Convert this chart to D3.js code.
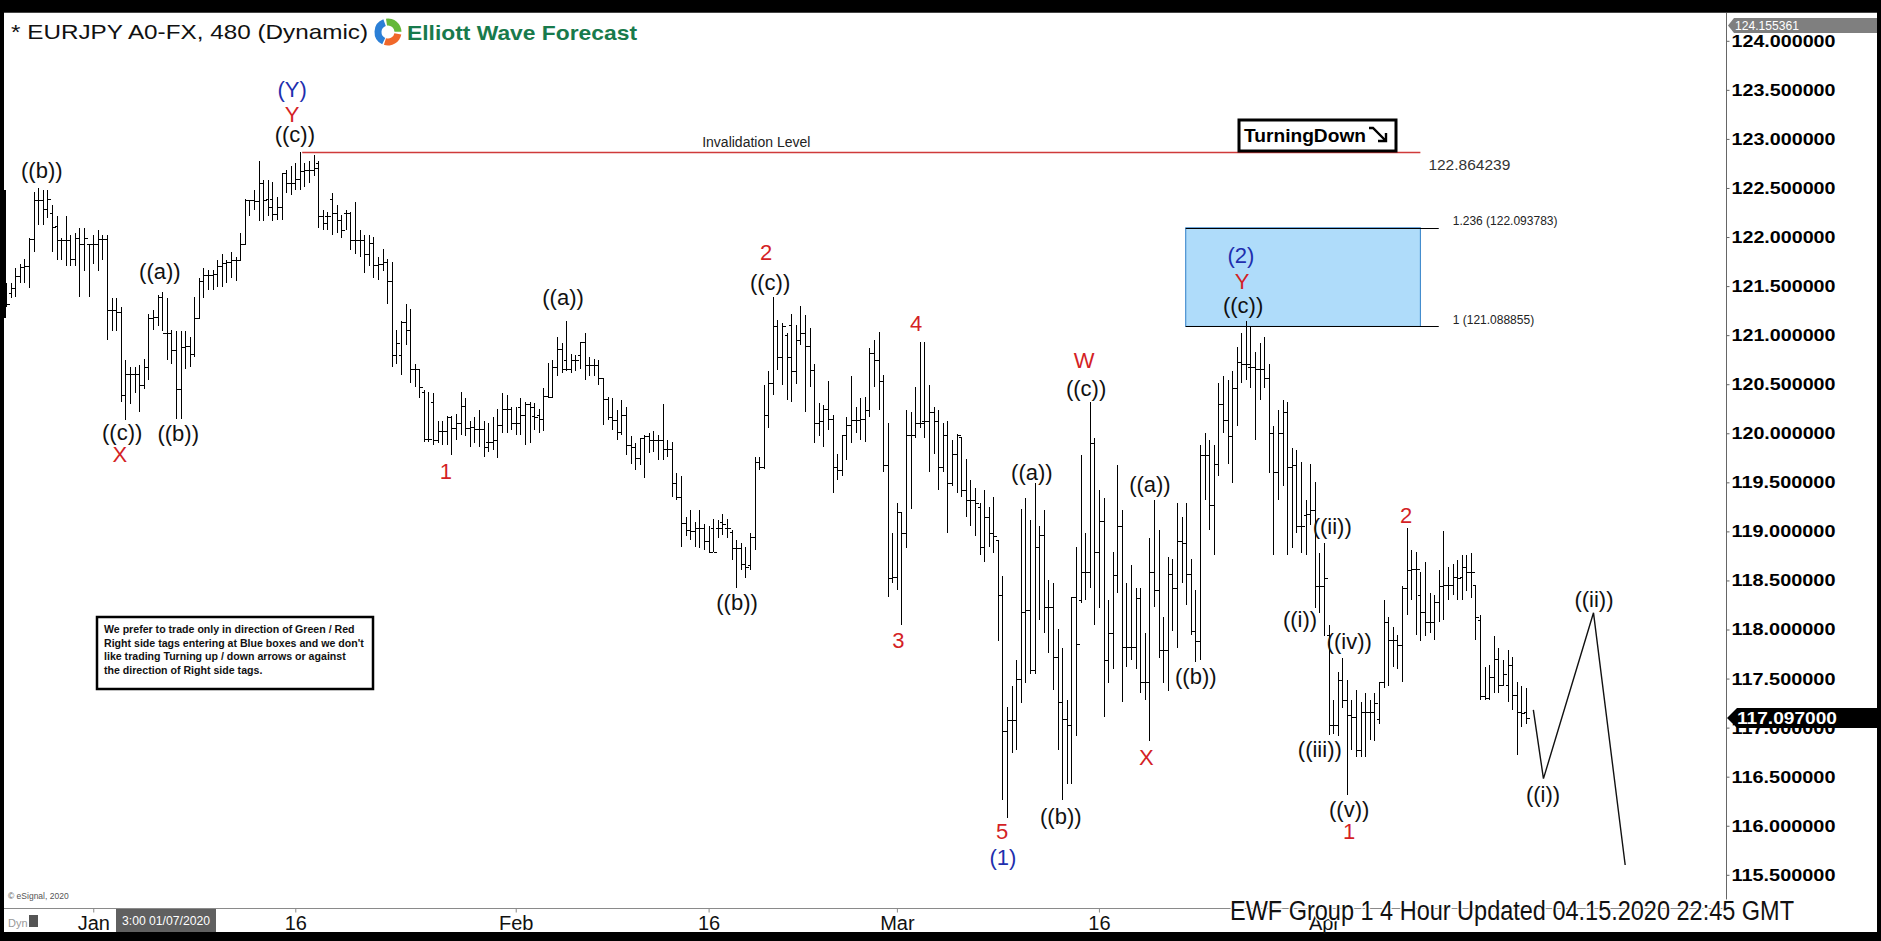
<!DOCTYPE html>
<html><head><meta charset="utf-8">
<script src="https://cdn.jsdelivr.net/npm/d3@7"></script>
<style>
html,body{margin:0;padding:0;background:#000;overflow:hidden;}
svg{display:block;}
text{font-family:"Liberation Sans",Arial,Helvetica,sans-serif;}
</style></head><body>
<svg id="c" width="1881" height="941"></svg>
<script>
// ---------------- DATA (EURJPY 480-min bars) ----------------
const highs=[
121.53,121.53,121.68,121.73,121.78,121.99,122.46,122.50,122.48,122.48,
122.33,122.21,121.99,122.21,122.02,122.04,122.09,122.09,121.93,122.02,
122.07,122.02,122.02,121.38,121.38,121.29,120.75,120.68,120.68,120.70,
120.76,121.22,121.26,121.41,121.44,121.38,121.05,121.04,121.04,121.04,
120.98,121.39,121.58,121.68,121.66,121.66,121.77,121.83,121.77,121.85,
121.80,122.04,122.39,122.38,122.48,122.77,122.58,122.58,122.56,122.41,
122.65,122.68,122.72,122.75,122.87,122.75,122.77,122.84,122.77,122.28,
122.26,122.45,122.33,122.22,122.28,122.26,122.36,122.07,122.02,122.02,
122.00,121.80,121.88,121.78,121.75,121.05,121.14,121.32,121.27,120.71,
120.66,120.44,120.42,120.41,120.13,120.13,120.18,120.18,120.20,120.42,
120.36,120.13,120.17,120.24,120.12,120.10,120.17,120.25,120.41,120.39,
120.27,120.27,120.36,120.32,120.32,120.31,120.25,120.46,120.72,120.75,
120.98,120.92,121.14,120.81,120.80,120.93,121.02,120.78,120.76,120.75,
120.56,120.37,120.36,120.24,120.34,120.27,119.97,119.90,119.95,119.98,
120.00,120.02,119.98,120.30,119.93,119.91,119.59,119.56,119.15,119.22,
119.10,119.22,119.08,119.05,119.13,119.12,119.18,119.13,119.01,118.91,
118.88,118.84,118.98,119.76,119.76,120.49,120.63,121.39,121.15,121.12,
121.02,121.22,121.10,121.30,121.21,121.07,120.71,120.31,120.29,120.53,
120.19,119.79,119.98,120.17,120.58,120.27,120.36,120.37,120.87,120.95,
121.03,120.59,120.10,118.98,119.29,119.20,120.24,120.22,120.47,120.93,
120.93,120.49,120.27,120.24,120.10,120.12,119.93,119.99,119.96,119.74,
119.52,119.44,119.29,119.42,119.25,119.35,118.91,118.55,117.21,117.42,
117.69,119.23,119.34,119.12,119.49,119.05,119.22,118.50,118.47,118.01,
117.81,117.28,118.33,118.84,119.78,118.98,120.32,119.95,119.42,119.34,
118.30,118.79,119.68,119.22,118.47,118.66,118.42,118.42,117.96,118.93,
119.32,119.01,118.13,118.74,118.72,119.29,119.15,119.29,118.72,118.40,
119.88,120.00,119.93,119.88,120.51,120.58,120.54,120.63,120.88,121.02,
121.14,121.09,120.83,120.92,120.98,120.71,120.07,120.24,120.34,120.32,
119.85,119.83,119.71,119.32,119.69,119.50,118.78,118.88,118.05,117.28,
117.57,117.71,117.49,117.28,117.38,117.26,117.35,117.28,117.35,117.47,
118.30,118.13,118.03,117.94,118.44,119.03,118.81,118.79,118.59,118.69,
118.37,118.35,118.61,119.00,118.64,118.67,118.71,118.76,118.76,118.78,
118.45,118.15,117.62,117.64,117.93,117.81,117.69,117.79,117.72,117.47,117.42,117.40];
const lows=[
121.29,121.38,121.39,121.53,121.53,121.48,121.85,122.12,122.12,122.19,
121.85,121.77,121.77,121.70,121.70,121.70,121.39,121.65,121.39,121.73,
121.65,121.77,120.95,121.04,121.04,120.32,120.14,120.30,120.41,120.22,
120.45,120.54,121.05,121.09,121.04,120.75,120.71,120.15,120.15,120.65,
120.68,120.78,121.17,121.38,121.46,121.46,121.49,121.49,121.53,121.58,
121.55,121.77,121.92,122.21,122.28,122.16,122.16,122.21,122.16,122.17,
122.17,122.45,122.43,122.48,122.48,122.51,122.55,122.62,122.09,122.07,
122.07,122.02,122.04,121.99,122.07,121.87,121.83,121.80,121.63,121.70,
121.58,121.56,121.65,121.32,120.68,120.71,120.59,120.90,120.51,120.47,
120.36,119.91,119.91,119.88,119.90,119.88,119.88,119.78,119.93,119.98,
119.97,119.86,119.90,119.86,119.76,119.81,119.83,119.75,120.00,120.00,
120.03,119.98,119.98,119.88,119.90,120.03,120.00,120.02,120.36,120.36,
120.58,120.61,120.63,120.61,120.63,120.65,120.54,120.58,120.58,120.49,
120.08,120.14,120.03,119.93,119.98,119.78,119.69,119.63,119.68,119.54,
119.80,119.81,119.73,119.73,119.76,119.35,119.32,118.84,118.95,118.91,
118.84,118.83,118.81,118.78,118.79,118.93,118.96,118.93,118.71,118.42,
118.61,118.52,118.61,118.81,119.63,119.64,120.05,120.39,120.64,120.49,
120.34,120.32,120.50,120.90,120.22,120.47,119.90,119.97,119.86,120.03,
119.39,119.52,119.56,119.73,119.90,120.00,119.93,119.91,120.17,120.47,
120.24,119.61,118.33,118.47,118.40,118.05,118.83,119.23,119.95,120.05,
119.95,119.61,119.79,119.42,119.61,118.98,119.46,119.39,119.35,119.15,
119.05,118.95,118.76,118.69,118.84,118.78,117.88,116.26,116.08,116.74,
116.77,117.25,117.45,117.55,117.55,118.10,117.96,117.76,117.38,116.77,
116.26,116.43,116.43,116.91,118.27,118.30,118.42,118.05,118.22,117.11,
117.45,117.60,118.37,117.26,117.62,117.69,117.60,117.35,117.28,116.86,
118.23,117.71,117.45,117.37,117.98,117.81,118.47,118.25,117.94,117.67,
117.69,119.32,119.01,118.76,119.56,120.00,119.69,119.49,120.07,120.51,
120.54,120.46,119.93,120.34,120.46,119.59,118.76,119.32,119.46,118.76,
118.83,118.98,118.78,118.76,119.07,118.22,118.17,117.93,116.92,116.94,
116.91,117.20,116.31,116.77,116.70,116.70,116.70,116.87,116.86,117.04,
117.40,117.42,117.62,117.60,117.47,118.15,118.30,117.94,117.88,117.93,
117.96,117.89,118.08,118.10,118.30,118.35,118.30,118.30,118.39,118.32,
117.89,117.28,117.28,117.28,117.35,117.35,117.42,117.26,117.18,116.72,117.01,117.04];
const opens=[
121.39,121.43,121.48,121.60,121.69,121.70,121.98,122.38,122.38,122.29,
122.24,122.11,121.97,121.97,121.97,121.78,121.99,121.93,121.93,121.93,
121.93,121.98,121.98,121.26,121.26,121.24,120.39,120.60,120.60,120.60,
120.49,120.68,121.17,121.19,121.39,121.02,121.02,120.85,120.45,120.88,
120.89,120.81,121.17,121.55,121.61,121.61,121.62,121.70,121.74,121.75,
121.77,121.77,121.93,122.38,122.38,122.37,122.55,122.39,122.39,122.23,
122.31,122.65,122.55,122.55,122.59,122.67,122.68,122.68,122.75,122.21,
122.21,122.39,122.24,122.17,122.25,122.25,121.97,121.97,121.97,121.83,
121.94,121.72,121.73,121.75,121.55,120.80,120.80,121.13,121.05,120.65,
120.65,120.42,119.94,120.32,119.93,120.02,120.02,120.17,120.05,120.10,
120.28,120.05,120.06,120.04,120.04,119.91,119.91,119.93,120.08,120.25,
120.25,120.10,120.27,120.19,120.30,120.18,120.19,120.15,120.38,120.37,
120.68,120.86,120.75,120.66,120.75,120.80,120.93,120.70,120.70,120.70,
120.56,120.35,120.17,120.14,120.01,120.19,119.88,119.86,119.75,119.95,
119.97,119.93,119.93,119.93,119.84,119.84,119.49,119.35,119.09,119.01,
119.00,119.03,119.03,118.90,119.03,119.03,119.10,119.03,118.99,118.83,
118.83,118.67,118.66,118.94,119.71,119.66,120.19,120.51,121.09,120.78,
121.00,121.10,120.63,120.95,121.02,120.89,120.64,120.10,120.13,120.25,
120.15,119.66,119.63,119.98,120.08,120.14,120.14,120.15,120.24,120.82,
120.75,120.53,119.68,118.52,118.54,119.20,118.98,119.98,119.98,120.10,
120.13,120.13,120.22,120.13,119.66,119.98,119.49,119.79,119.96,119.42,
119.32,119.32,119.25,118.84,119.15,118.98,118.91,118.35,116.97,117.08,
117.08,117.50,118.18,118.20,117.59,118.84,118.96,118.23,118.23,117.72,
117.26,117.09,117.03,118.33,118.30,118.59,118.59,119.90,118.79,119.11,
117.69,117.96,118.56,119.05,117.82,117.82,117.82,118.32,117.47,117.47,
118.59,118.40,117.79,117.79,118.57,118.42,118.90,118.88,118.57,117.98,
117.88,119.78,119.78,119.27,119.69,120.30,120.14,119.97,120.46,120.73,
120.71,120.68,120.68,120.66,120.66,120.56,120.00,119.61,120.00,120.22,
119.66,119.68,119.05,119.17,119.18,119.22,118.44,118.44,117.94,117.03,
117.03,117.49,117.28,117.13,117.11,116.77,117.16,117.16,117.16,117.09,
117.46,118.08,117.89,117.89,117.84,118.42,118.61,118.62,118.35,118.18,
118.08,118.08,118.28,118.44,118.45,118.45,118.54,118.54,118.64,118.59,
118.45,118.10,117.32,117.30,117.52,117.70,117.43,117.43,117.64,117.33,117.16,117.16];
const closes=[
121.32,121.48,121.60,121.69,121.70,121.98,122.38,122.38,122.29,122.39,
122.10,121.97,121.97,121.97,121.78,121.99,121.93,121.99,121.93,121.93,
121.98,121.98,121.26,121.26,121.24,120.39,120.60,120.60,120.60,120.49,
120.68,121.17,121.19,121.39,121.02,121.02,120.85,120.45,120.88,120.89,
120.81,121.17,121.55,121.61,121.61,121.62,121.70,121.74,121.75,121.77,
121.77,121.93,122.38,122.38,122.37,122.55,122.38,122.31,122.23,122.31,
122.65,122.55,122.55,122.59,122.67,122.68,122.68,122.70,122.21,122.14,
122.21,122.24,122.17,122.07,122.25,121.97,121.97,121.97,121.83,121.94,
121.72,121.73,121.75,121.55,120.80,120.92,121.13,121.05,120.65,120.65,
120.47,119.94,119.94,119.93,120.02,120.02,120.17,120.05,120.10,120.28,
120.05,120.06,120.04,120.04,119.86,119.91,119.93,120.08,120.25,120.25,
120.10,120.10,120.19,120.30,120.27,120.17,120.15,120.38,120.37,120.68,
120.86,120.66,120.66,120.75,120.75,120.93,120.70,120.70,120.70,120.56,
120.35,120.17,120.14,120.01,120.19,119.88,119.86,119.75,119.95,119.97,
119.93,119.93,119.93,119.84,119.84,119.49,119.35,119.09,119.01,119.00,
119.03,119.03,118.90,118.79,118.79,119.03,119.08,119.03,118.83,118.83,
118.67,118.64,118.94,119.71,119.66,120.19,120.51,121.09,120.78,121.09,
120.78,120.63,120.95,121.02,120.89,120.64,120.10,120.13,120.25,120.15,
119.66,119.63,119.98,120.08,120.14,120.14,120.15,120.24,120.82,120.75,
120.53,119.68,118.52,118.54,119.20,118.98,119.98,119.98,120.10,120.10,
120.13,120.22,120.13,119.66,119.98,119.49,119.79,119.98,119.42,119.32,
119.32,119.29,118.84,119.15,118.98,118.95,118.35,116.97,117.08,117.08,
117.50,118.18,118.20,117.59,118.84,118.96,118.23,118.23,117.72,117.26,
117.09,117.03,118.33,117.85,118.59,118.59,119.90,118.79,119.11,117.69,
117.96,118.56,119.05,117.82,117.82,117.82,118.32,117.47,117.47,118.59,
118.40,117.79,117.79,118.57,118.42,118.90,118.88,118.57,117.98,117.88,
119.78,119.78,119.27,119.69,120.30,120.14,119.97,120.46,120.73,120.71,
120.71,120.68,120.66,120.66,120.56,120.00,119.61,120.00,120.22,119.66,
119.68,119.05,119.05,119.18,119.22,118.44,118.44,118.52,117.03,117.03,
117.49,117.28,117.13,117.11,116.77,117.16,117.16,117.16,117.25,117.46,
118.08,117.89,117.89,117.84,118.42,118.61,118.62,118.62,118.18,118.08,
118.08,118.28,118.44,118.45,118.45,118.54,118.52,118.64,118.59,118.59,
118.13,117.32,117.30,117.52,117.70,117.43,117.55,117.64,117.33,117.16,117.15,117.10];

const xTickIdx=[19,63,111,153,194,238,287];
const xTickLabels=["Jan","16","Feb","16","Mar","16","Apr"];
const yTicks=[124,123.5,123,122.5,122,121.5,121,120.5,120,119.5,119,118.5,118,117.5,117,116.5,116,115.5];

// projected path (bar index, price)
const projIdx=[332.6,334.8,345.7,352.6];
const projPrice=[117.18,116.48,118.17,115.60];

// invalidation & fib box
const invalidation={price:122.864239, from:64.5, to:308};
const fibTop=122.093783, fibBottom=121.088855, fibFrom=256.9, fibTo=308, fibLineTo=312;
const lastPrice=117.097, topPrice=124.155361;

// wave labels: text, bar index, price, colour key
const waveLabels=[
 ["((b))",7.8,122.68,"k"],["((c))",25.3,120.01,"k"],["X",24.8,119.78,"r"],
 ["((a))",33.5,121.65,"k"],["((b))",37.5,120.00,"k"],
 ["(Y)",62.3,123.50,"b"],["Y",62.3,123.25,"r"],["((c))",62.9,123.05,"k"],
 ["1",95.8,119.61,"r"],["((a))",121.3,121.38,"k"],["((b))",159.2,118.28,"k"],
 ["2",165.5,121.84,"r"],["((c))",166.4,121.54,"k"],
 ["4",198.2,121.12,"r"],["3",194.3,117.89,"r"],
 ["W",234.8,120.74,"r"],["((c))",235.2,120.46,"k"],["((a))",223.4,119.60,"k"],
 ["5",216.9,115.94,"r"],["(1)",217.1,115.68,"b"],["((b))",229.7,116.09,"k"],
 ["((a))",249.1,119.48,"k"],["X",248.3,116.70,"r"],["((b))",259.1,117.52,"k"],
 ["(2)",268.9,121.81,"b"],["Y",269.2,121.55,"r"],["((c))",269.4,121.30,"k"],
 ["((ii))",288.8,119.05,"k"],["((i))",281.8,118.10,"k"],["((iv))",292.5,117.88,"k"],
 ["((iii))",286.1,116.78,"k"],["((v))",292.5,116.17,"k"],["1",292.5,115.94,"r"],
 ["2",304.9,119.16,"r"],["((ii))",345.8,118.31,"k"],["((i))",334.7,116.32,"k"]
];
const colorMap={k:"#111111",r:"#d41f26",b:"#1f2fae"};

// ---------------- DRAW ----------------
const svg=d3.select("#c");
svg.append("rect").attr("width",1881).attr("height",941).attr("fill","#000");
svg.append("rect").attr("x",4).attr("y",12).attr("width",1873).attr("height",920).attr("fill","#fff");
svg.append("line").attr("x1",4).attr("x2",1877).attr("y1",12.5).attr("y2",12.5).attr("stroke","#444");
svg.append("rect").attr("x",4).attr("y",190).attr("width",2).attr("height",128).attr("fill","#000");

const N=highs.length;
const x=d3.scaleLinear().domain([0,N-1]).range([6,1526]);
const y=d3.scaleLinear().domain([115.5,124]).range([874.8,40.8]);

// fib box
svg.append("rect").attr("x",x(fibFrom)).attr("y",y(fibTop))
  .attr("width",x(fibTo)-x(fibFrom)).attr("height",y(fibBottom)-y(fibTop))
  .attr("fill","#afdcfa").attr("stroke","#2f7fc8").attr("stroke-width",1);
[fibTop,fibBottom].forEach(p=>{
  svg.append("line").attr("x1",x(fibFrom)).attr("x2",x(fibLineTo))
    .attr("y1",Math.round(y(p))+0.5).attr("y2",Math.round(y(p))+0.5)
    .attr("stroke","#000").attr("stroke-width",1.2);
});
svg.append("text").attr("x",x(fibLineTo)+14).attr("y",y(fibTop)-3).attr("font-size",12).attr("fill","#222")
  .text("1.236 ("+fibTop.toFixed(6)+")");
svg.append("text").attr("x",x(fibLineTo)+14).attr("y",y(fibBottom)-2).attr("font-size",12).attr("fill","#222")
  .text("1 ("+fibBottom.toFixed(6)+")");

// invalidation
const iy=Math.round(y(invalidation.price))+0.5;
svg.append("line").attr("x1",x(invalidation.from)).attr("x2",x(invalidation.to))
  .attr("y1",iy).attr("y2",iy).attr("stroke","#cf3a3a").attr("stroke-width",1.3);
svg.append("text").attr("x",(x(invalidation.from)+x(invalidation.to))/2-105).attr("y",iy-6)
  .attr("text-anchor","middle").attr("font-size",14).attr("fill","#222").text("Invalidation Level");
svg.append("text").attr("x",x(invalidation.to)+8).attr("y",iy+17).attr("font-size",15.5).attr("fill","#333")
  .text(invalidation.price.toFixed(6));

// Turning Down box
svg.append("rect").attr("x",1239).attr("y",120).attr("width",157).attr("height",31)
  .attr("fill","#fff").attr("stroke","#000").attr("stroke-width",3);
svg.append("text").attr("x",1244).attr("y",142).attr("font-size",18.5).attr("font-weight","bold")
  .attr("textLength",122).attr("lengthAdjust","spacingAndGlyphs").text("TurningDown");
svg.append("path").attr("d","M1369,128 L1373,128 L1386,141 M1386,133 L1386,141 L1378,141")
  .attr("fill","none").attr("stroke","#000").attr("stroke-width",2.4);

// OHLC bars
const bars=d3.range(N).map(i=>({i,h:highs[i],l:lows[i],o:opens[i],c:closes[i]}));
const px=d=>Math.round(x(d.i))+0.5;
const bg=svg.append("g").attr("stroke","#000").attr("stroke-width",1).attr("shape-rendering","crispEdges");
bg.selectAll("line.hl").data(bars).join("line").attr("class","hl")
  .attr("x1",px).attr("x2",px).attr("y1",d=>y(d.h)).attr("y2",d=>y(d.l));
bg.selectAll("line.op").data(bars).join("line").attr("class","op")
  .attr("x1",d=>px(d)-3).attr("x2",d=>px(d)).attr("y1",d=>Math.round(y(d.o))+0.5).attr("y2",d=>Math.round(y(d.o))+0.5);
bg.selectAll("line.cl").data(bars).join("line").attr("class","cl")
  .attr("x1",d=>px(d)).attr("x2",d=>px(d)+3).attr("y1",d=>Math.round(y(d.c))+0.5).attr("y2",d=>Math.round(y(d.c))+0.5);

// projection
svg.append("path").datum(d3.range(projIdx.length))
  .attr("d",d3.line().x(i=>x(projIdx[i])).y(i=>y(projPrice[i])))
  .attr("fill","none").attr("stroke","#111").attr("stroke-width",1.4);

// wave labels
svg.append("g").selectAll("text").data(waveLabels).join("text")
  .attr("x",d=>x(d[1])).attr("y",d=>y(d[2])).attr("text-anchor","middle")
  .attr("dominant-baseline","central").attr("font-size",22).attr("fill",d=>colorMap[d[3]]).text(d=>d[0]);

// disclaimer box
svg.append("rect").attr("x",97).attr("y",617).attr("width",276).attr("height",72)
  .attr("fill","#fff").attr("stroke","#000").attr("stroke-width",2.5);
["We prefer to trade only in direction of Green / Red",
 "Right side tags entering at Blue boxes and we don't",
 "like trading Turning up / down arrows or against",
 "the direction of Right side tags."].forEach((t,i)=>{
  svg.append("text").attr("x",104).attr("y",633+i*13.5).attr("font-size",10.6).attr("font-weight","bold").attr("fill","#111").text(t);
});

// Y axis
svg.append("line").attr("x1",1726.5).attr("x2",1726.5).attr("y1",13).attr("y2",902).attr("stroke","#666");
const yAxis=d3.axisRight(y).tickValues(yTicks).tickFormat(d=>d.toFixed(6)).tickSize(3).tickPadding(2);
const ya=svg.append("g").attr("transform","translate(1726.5,0)").call(yAxis);
ya.select(".domain").remove();
ya.selectAll("line").attr("stroke","#666");
ya.selectAll("text").attr("font-size",17).attr("font-weight","bold").attr("fill","#000")
  .attr("font-family","'Liberation Sans',Arial,sans-serif")
  .attr("textLength",104).attr("lengthAdjust","spacingAndGlyphs");

// X axis
svg.append("line").attr("x1",4).attr("x2",1726).attr("y1",908.5).attr("y2",908.5).attr("stroke","#8a8a8a");
const xAxis=d3.axisBottom(x).tickValues(xTickIdx).tickFormat((d,i)=>xTickLabels[i]).tickSize(4).tickPadding(3);
const xa=svg.append("g").attr("transform","translate(0,908.5)").call(xAxis);
xa.select(".domain").remove();
xa.selectAll("line").attr("stroke","#8a8a8a");
xa.selectAll("text").attr("font-size",20).attr("fill","#111").attr("font-family","'Liberation Sans',Arial,sans-serif");

// date marker box
svg.append("rect").attr("x",116).attr("y",909).attr("width",100).attr("height",23).attr("fill","#606060");
svg.append("text").attr("x",166).attr("y",925).attr("text-anchor","middle").attr("font-size",12).attr("fill","#fff")
  .attr("textLength",88).attr("lengthAdjust","spacingAndGlyphs").text("3:00 01/07/2020");
svg.append("text").attr("x",8).attr("y",927).attr("font-size",11).attr("fill","#999").text("Dyn");
svg.append("rect").attr("x",29).attr("y",915).attr("width",9).attr("height",12).attr("fill","#555");
svg.append("text").attr("x",8).attr("y",899).attr("font-size",8.5).attr("fill","#555").text("\u00a9 eSignal, 2020");

// price markers
const ly=y(lastPrice);
svg.append("path").attr("d",`M1727,${ly} L1737,${ly-10} L1877,${ly-10} L1877,${ly+10} L1737,${ly+10} Z`).attr("fill","#000");
svg.append("text").attr("x",1737).attr("y",ly).attr("dominant-baseline","central").attr("font-size",17)
  .attr("font-weight","bold").attr("fill","#fff").attr("textLength",100).attr("lengthAdjust","spacingAndGlyphs")
  .text(lastPrice.toFixed(6));
const ty=y(topPrice);
svg.append("path").attr("d",`M1728,${ty} L1734,${ty-7.5} L1877,${ty-7.5} L1877,${ty+7.5} L1734,${ty+7.5} Z`).attr("fill","#7f7f7f");
svg.append("text").attr("x",1735).attr("y",ty+0.5).attr("dominant-baseline","central").attr("font-size",12.5)
  .attr("fill","#fff").attr("textLength",64).attr("lengthAdjust","spacingAndGlyphs").text(topPrice.toFixed(6));

// EWF footer
svg.append("text").attr("x",1230).attr("y",920).attr("font-size",27)
  .attr("textLength",564).attr("lengthAdjust","spacingAndGlyphs")
  .attr("fill","#111").attr("stroke","#fff").attr("stroke-width",3).attr("paint-order","stroke")
  .text("EWF Group 1 4 Hour  Updated 04.15.2020 22:45 GMT");

// Title + logo
svg.append("text").attr("x",11).attr("y",39).attr("font-size",21).attr("fill","#111")
  .attr("textLength",357).attr("lengthAdjust","spacingAndGlyphs").text("* EURJPY A0-FX, 480 (Dynamic)");
const arc=d3.arc().innerRadius(6.5).outerRadius(13.5);
const logo=svg.append("g").attr("transform","translate(388,32)");
[[-2.7,-0.35,"#2b7fd6"],[-0.15,1.55,"#64b83a"],[1.75,3.45,"#f0682a"]].forEach(a=>{
  logo.append("path").attr("d",arc({startAngle:a[0],endAngle:a[1]})).attr("fill",a[2]);
});
svg.append("text").attr("x",407).attr("y",40).attr("font-size",21).attr("font-weight","bold").attr("fill","#187a4c")
  .attr("textLength",230).attr("lengthAdjust","spacingAndGlyphs").text("Elliott Wave Forecast");
</script>
</body></html>
